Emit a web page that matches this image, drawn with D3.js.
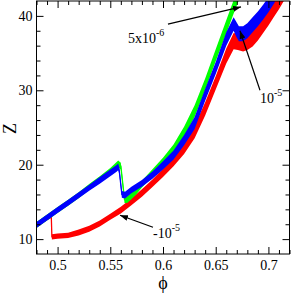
<!DOCTYPE html>
<html>
<head>
<meta charset="utf-8">
<script src="https://cdn.jsdelivr.net/npm/d3@7"></script>
<style>
  body { margin: 0; background: #fff; }
  svg { display: block; }
</style>
</head>
<body>
<div id="chart_div"></div>
<script>
// rows: [phi, Z, half width of the noise band]
const redRun = [
  [0.480, 11.9, 0.35], [0.490, 12.9, 0.35], [0.494, 13.2, 0.35], [0.4946, 10.3, 0.35],
  [0.500, 10.4, 0.35], [0.510, 10.5, 0.35], [0.520, 10.9, 0.4], [0.530, 11.4, 0.4],
  [0.540, 12.1, 0.4], [0.550, 13.0, 0.4], [0.560, 13.9, 0.45], [0.570, 15.0, 0.45],
  [0.580, 16.2, 0.5], [0.590, 17.5, 0.5], [0.600, 18.9, 0.55], [0.610, 20.4, 0.6],
  [0.620, 22.2, 0.75], [0.630, 24.4, 0.85], [0.640, 27.5, 0.9], [0.650, 31.0, 0.9],
  [0.660, 34.6, 1.0], [0.667, 36.6, 1.1], [0.671, 36.5, 1.1], [0.676, 36.3, 1.1],
  [0.680, 36.5, 1.1], [0.685, 37.0, 1.1], [0.690, 37.8, 1.1], [0.695, 38.8, 1.1],
  [0.700, 39.8, 1.1], [0.705, 40.9, 1.1], [0.710, 42.0, 1.1], [0.715, 43.2, 1.1]
];
const greenRun = [
  [0.480, 11.9, 0.4], [0.490, 12.9, 0.4], [0.500, 13.9, 0.4], [0.510, 14.9, 0.4],
  [0.520, 15.9, 0.4], [0.530, 17.0, 0.4], [0.540, 18.0, 0.45], [0.550, 19.1, 0.45],
  [0.556, 19.9, 0.45], [0.5575, 20.1, 0.45], [0.5600, 19.8, 0.45], [0.5635, 15.3, 0.45],
  [0.566, 15.3, 0.45], [0.570, 15.8, 0.45], [0.575, 16.5, 0.45], [0.580, 17.4, 0.45],
  [0.590, 18.9, 0.5], [0.600, 20.4, 0.55], [0.610, 22.1, 0.6], [0.620, 24.4, 0.7],
  [0.630, 27.2, 0.8], [0.640, 30.8, 0.8], [0.650, 34.7, 0.8], [0.660, 38.5, 0.9],
  [0.668, 41.6, 0.9], [0.672, 43.0, 0.9]
];
const blueRun = [
  [0.480, 11.9, 0.4], [0.490, 12.9, 0.4], [0.500, 13.9, 0.4], [0.510, 14.9, 0.4],
  [0.520, 15.9, 0.4], [0.530, 16.9, 0.4], [0.540, 17.9, 0.45], [0.550, 18.9, 0.45],
  [0.556, 19.5, 0.45], [0.5575, 19.7, 0.45], [0.5585, 19.2, 0.45], [0.561, 16.0, 0.45],
  [0.564, 15.9, 0.45], [0.570, 16.6, 0.45], [0.580, 17.5, 0.45], [0.590, 18.6, 0.5],
  [0.600, 19.9, 0.55], [0.610, 21.3, 0.6], [0.620, 23.3, 0.7], [0.630, 25.6, 0.8],
  [0.640, 29.4, 0.8], [0.650, 33.0, 0.8], [0.660, 36.9, 0.9], [0.667, 38.9, 0.9],
  [0.6695, 38.2, 1.0], [0.672, 37.6, 1.0], [0.676, 37.6, 1.0], [0.680, 38.0, 1.0],
  [0.685, 38.8, 1.0], [0.690, 39.6, 1.0], [0.695, 40.5, 1.0], [0.700, 41.5, 1.0],
  [0.706, 42.8, 1.0]
];

const phiMajorTicks = [0.5, 0.55, 0.6, 0.65, 0.7];
const phiMinorTicks = [0.48, 0.49, 0.51, 0.52, 0.53, 0.54, 0.56, 0.57, 0.58, 0.59,
  0.61, 0.62, 0.63, 0.64, 0.66, 0.67, 0.68, 0.69, 0.71, 0.72];
const zMajorTicks = [10, 20, 30, 40];
const zMinorTicks = [12, 14, 16, 18, 22, 24, 26, 28, 32, 34, 36, 38];

// annotations: [label text, superscript, text phi, text Z, arrow from phi, Z, arrow to phi, Z]
const notes = [
  ["5x10", "-6", 0.5668, 36.36, 0.6047, 38.9, 0.674, 41.2],
  ["10", "-5", 0.692, 28.3, 0.692, 30.0, 0.673, 38.0],
  ["-10", "-5", 0.5905, 10.15, 0.5905, 11.6, 0.5592, 13.2]
];

const width = 291, height = 295;
const serif = "Liberation Serif, DejaVu Serif, serif";

const x = d3.scaleLinear().domain([0.48, 0.72]).range([36.5, 289.5]);
const y = d3.scaleLinear().domain([8, 42]).range([254, 1]);

const svg = d3.select("#chart_div")
  .append("svg")
  .attr("width", width)
  .attr("height", height);

svg.append("defs")
  .append("clipPath")
  .attr("id", "plot_clip")
  .append("rect")
  .attr("x", x(0.48)).attr("y", y(42))
  .attr("width", x(0.72) - x(0.48))
  .attr("height", y(8) - y(42));

svg.select("defs")
  .append("marker")
  .attr("id", "arrow_head")
  .attr("markerUnits", "userSpaceOnUse")
  .attr("markerWidth", 9).attr("markerHeight", 7)
  .attr("refX", 8).attr("refY", 3)
  .attr("orient", "auto")
  .append("path")
  .attr("d", "M0,0 L8,3 L0,6 Z")
  .attr("fill", "#000");

const plot = svg.append("g").attr("clip-path", "url(#plot_clip)");

const band = d3.area()
  .x(d => x(d[0]))
  .y0(d => y(d[1] - d[2]))
  .y1(d => y(d[1] + d[2]));

const centre = d3.line()
  .x(d => x(d[0]))
  .y(d => y(d[1]));

[[redRun, "#ff0000"], [greenRun, "#00ff00"], [blueRun, "#0000ff"]].forEach(function(s) {
  plot.append("path")
    .datum(s[0])
    .attr("fill", s[1])
    .attr("d", band);
  plot.append("path")
    .datum(s[0])
    .attr("fill", "none")
    .attr("stroke", s[1])
    .attr("stroke-width", 1.3)
    .attr("d", centre);
});

// axes, ticks pointing inward on all four sides
function styleAxis(g) {
  g.attr("font-family", serif).attr("font-size", 14);
  g.select(".domain").remove();
  g.selectAll("line").attr("stroke", "#000");
  g.selectAll("text").attr("fill", "#000");
}

const plotBottom = y(8), plotTop = y(42), plotLeft = x(0.48), plotRight = x(0.72);

svg.append("g").attr("transform", "translate(0," + plotBottom + ")")
  .call(d3.axisBottom(x).tickValues(phiMajorTicks).tickSize(-7).tickPadding(6)
    .tickFormat(d3.format("")))
  .call(styleAxis);
svg.append("g").attr("transform", "translate(0," + plotBottom + ")")
  .call(d3.axisBottom(x).tickValues(phiMinorTicks).tickSize(-4).tickFormat(""))
  .call(styleAxis);
svg.append("g").attr("transform", "translate(0," + plotTop + ")")
  .call(d3.axisTop(x).tickValues(phiMajorTicks).tickSize(-7).tickFormat(""))
  .call(styleAxis);
svg.append("g").attr("transform", "translate(0," + plotTop + ")")
  .call(d3.axisTop(x).tickValues(phiMinorTicks).tickSize(-4).tickFormat(""))
  .call(styleAxis);

svg.append("g").attr("transform", "translate(" + plotLeft + ",0)")
  .call(d3.axisLeft(y).tickValues(zMajorTicks).tickSize(-7).tickPadding(4))
  .call(styleAxis);
svg.append("g").attr("transform", "translate(" + plotLeft + ",0)")
  .call(d3.axisLeft(y).tickValues(zMinorTicks).tickSize(-4).tickFormat(""))
  .call(styleAxis);
svg.append("g").attr("transform", "translate(" + plotRight + ",0)")
  .call(d3.axisRight(y).tickValues(zMajorTicks).tickSize(-7).tickFormat(""))
  .call(styleAxis);
svg.append("g").attr("transform", "translate(" + plotRight + ",0)")
  .call(d3.axisRight(y).tickValues(zMinorTicks).tickSize(-4).tickFormat(""))
  .call(styleAxis);

svg.append("rect")
  .attr("x", plotLeft).attr("y", plotTop)
  .attr("width", plotRight - plotLeft).attr("height", plotBottom - plotTop)
  .attr("fill", "none")
  .attr("stroke", "#000")
  .attr("stroke-width", 1);

// axis titles
svg.append("text")
  .attr("transform", "translate(16," + ((plotTop + plotBottom) / 2 + 1) + ") rotate(-90)")
  .attr("text-anchor", "middle")
  .attr("font-family", serif)
  .attr("font-size", 18)
  .text("Z");

svg.append("text")
  .attr("x", x(0.6))
  .attr("y", 289)
  .attr("text-anchor", "middle")
  .attr("font-family", serif)
  .attr("font-size", 18)
  .text("\u03D5");

// annotations
notes.forEach(function(n) {
  svg.append("line")
    .attr("x1", x(n[4])).attr("y1", y(n[5]))
    .attr("x2", x(n[6])).attr("y2", y(n[7]))
    .attr("stroke", "#000")
    .attr("stroke-width", 1.2)
    .attr("marker-end", "url(#arrow_head)");

  const t = svg.append("text")
    .attr("x", x(n[2])).attr("y", y(n[3]))
    .attr("font-family", serif)
    .attr("font-size", 14);
  t.append("tspan").text(n[0]);
  t.append("tspan").attr("dy", -7).attr("font-size", 10).text(n[1]);
});
</script>
</body>
</html>
